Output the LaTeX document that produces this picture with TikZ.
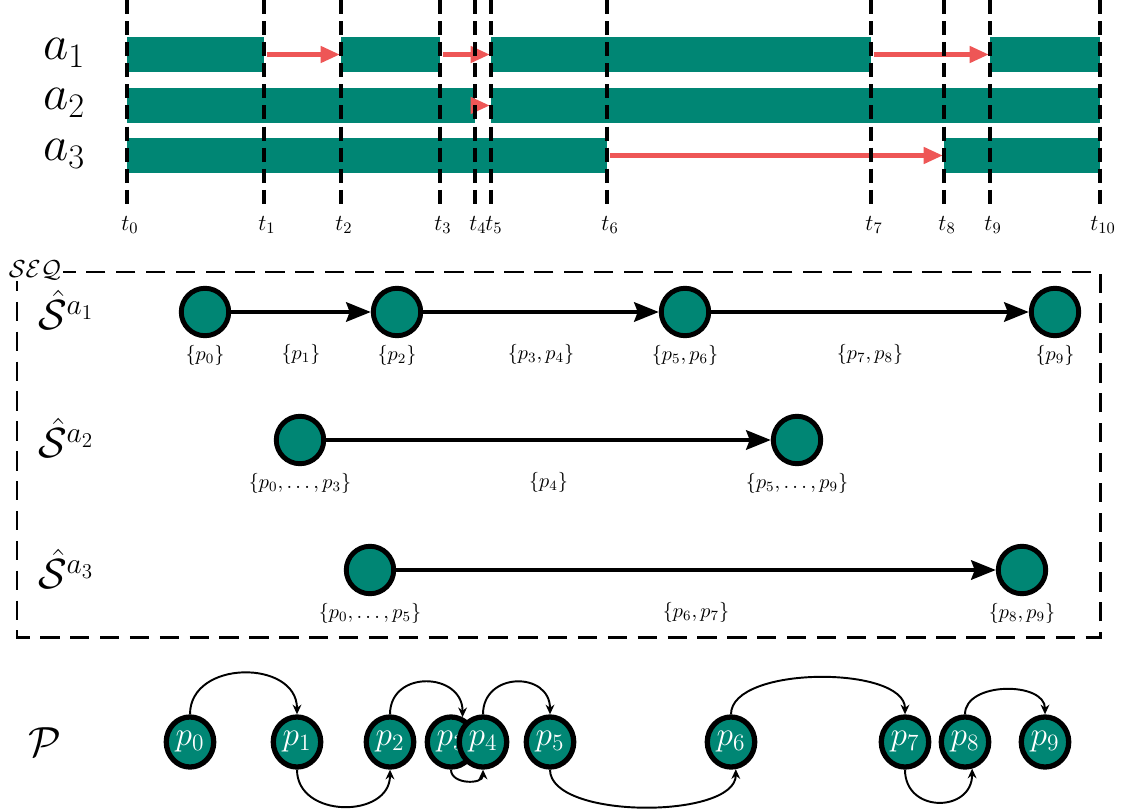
\documentclass[tikz,border=0pt]{standalone}
\usepackage{fix-cm}
\usepackage{amsmath}
\usepackage{tikz}
\usetikzlibrary{shapes.geometric, arrows.meta}

\definecolor{busy}{RGB}{0,134,116}
\definecolor{delay}{RGB}{238,86,86}

\begin{document}
\begin{tikzpicture}
    [
    x = 0.02cm, y = -0.02cm,
    every node/.style   = {inner sep=0pt},
    agentname/.style    = {font=\fontsize{28}{32}\selectfont},
    tlabel/.style       = {font=\fontsize{13}{16}\selectfont},
    bar/.style          = {fill=busy},
    tick/.style         = {line width=2.3pt, dash pattern=on 8pt off 4pt},
    delayarrow/.style   = {draw=delay, line width=2.8pt, -{Triangle[length=11pt,width=9pt]}},
    seqbox/.style       = {line width=1.7pt, dash pattern=on 11pt off 6pt},
    seqname/.style      = {font=\fontsize{14}{16}\selectfont, fill=white, inner sep=1pt},
    rowname/.style      = {font=\fontsize{24}{28}\selectfont},
    seqstate/.style     = {circle, draw, fill=busy, line width=2.8pt, minimum size=27pt},
    setlbl/.style       = {font=\fontsize{11.5}{13}\selectfont},
    seqedge/.style      = {line width=2.3pt, -{Stealth[length=14pt,width=11pt,inset=2pt]}},
    pname/.style        = {font=\fontsize{24}{28}\selectfont},
    ptstate/.style      = {ellipse, draw, fill=busy, line width=3pt, text=white,
                           minimum width=27pt, minimum height=28.5pt,
                           font=\fontsize{19}{22}\selectfont},
    pedge/.style        = {line width=1.1pt, -{Stealth[length=5.5pt,width=5pt]}}
    ]
    \useasboundingbox (0,0) rectangle (1125,811);

    % time line of the agents
    \node [agentname] (a1) at (64,53)  {$a_1$};
    \node [agentname] (a2) at (64,103) {$a_2$};
    \node [agentname] (a3) at (64,154) {$a_3$};
    \foreach \xa/\xb/\y in {127/264/37, 341/440/37, 491/871/37, 990/1100/37,
                            127/475/88, 491/1100/88, 127/607/138, 944/1100/138}
        \fill [bar] (\xa,\y) rectangle (\xb,\y+35);
    \foreach \xa/\xb/\y in {264/341/54.5, 440/491/54.5, 871/990/54.5,
                            475/491/105.5, 607/944/155.5}
        \draw [delayarrow] (\xa+3,\y) -- (\xb-1,\y);
    \foreach \x [count=\i from 0] in {127,264,341,440,475,491,607,871,944,990,1100} {
        \draw [tick] (\x,0) -- (\x,205);
        \node [tlabel] (t\i) at (\x+3,225) {$t_{\i}$};
    }

    % sequences
    \draw [seqbox] (17,272) rectangle (1100,637);
    \node [seqname] (seq) at (35,270) {$\mathcal{SEQ}$};
    \node [rowname] (r1) at (66,310) {$\hat{\mathcal{S}}^{a_1}$};
    \node [rowname] (r2) at (66,438) {$\hat{\mathcal{S}}^{a_2}$};
    \node [rowname] (r3) at (66,569) {$\hat{\mathcal{S}}^{a_3}$};

    \node [seqstate, label={[setlbl, label distance=4pt]below:$\{p_0\}$}] (s1a) at (205,312) {};
    \node [seqstate, label={[setlbl, label distance=4pt]below:$\{p_2\}$}] (s1b) at (397,312) {};
    \node [seqstate, label={[setlbl, label distance=4pt]below:$\{p_5,p_6\}$}] (s1c) at (685,312) {};
    \node [seqstate, label={[setlbl, label distance=4pt]below:$\{p_9\}$}] (s1d) at (1055,312) {};
    \draw [seqedge] (s1a) -- node [setlbl, below=17pt] {$\{p_1\}$} (s1b);
    \draw [seqedge] (s1b) -- node [setlbl, below=17pt] {$\{p_3,p_4\}$} (s1c);
    \draw [seqedge] (s1c) -- node [setlbl, below=17pt] {$\{p_7,p_8\}$} (s1d);

    \node [seqstate, label={[setlbl, label distance=4pt]below:$\{p_0,\ldots,p_3\}$}] (s2a) at (300,440) {};
    \node [seqstate, label={[setlbl, label distance=4pt]below:$\{p_5,\ldots,p_9\}$}] (s2b) at (797,440) {};
    \draw [seqedge] (s2a) -- node [setlbl, below=17pt] {$\{p_4\}$} (s2b);

    \node [seqstate, label={[setlbl, label distance=4pt]below:$\{p_0,\ldots,p_5\}$}] (s3a) at (370,570) {};
    \node [seqstate, label={[setlbl, label distance=4pt]below:$\{p_8,p_9\}$}] (s3b) at (1022,570) {};
    \draw [seqedge] (s3a) -- node [setlbl, below=17pt] {$\{p_6,p_7\}$} (s3b);

    % partition
    \node [pname] (P) at (45,742) {$\mathcal{P}$};
    \foreach \x [count=\i from 0] in {190,297,390,451,483,550,731,905,965,1045}
        \node [ptstate] (p\i) at (\x,742) {$p_{\i}$};
    \foreach \a/\sa/\b/\sb/\h in {0/90/1/90/-55, 1/270/2/270/49, 2/90/3/65/-45,
                                  3/270/4/270/15, 4/90/5/90/-43, 5/270/6/280/50,
                                  6/90/7/90/-49, 7/270/8/285/44, 8/90/9/90/-33}
        \draw [pedge] (p\a.\sa) .. controls +(0,\h) and +(0,\h) .. (p\b.\sb);
\end{tikzpicture}
\end{document}
